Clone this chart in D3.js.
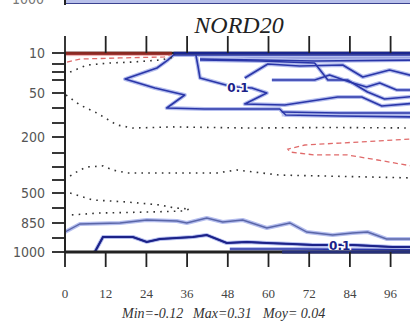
<!DOCTYPE html>
<html><head><meta charset="utf-8">
<script src="https://cdn.jsdelivr.net/npm/d3@7"></script>
<style>body{margin:0;background:#fff}svg{display:block}</style>
</head><body><svg id="c" width="410" height="322"></svg>
<script>
// ---- data ----
const title = "NORD20";
const xTicks = [0, 12, 24, 36, 48, 60, 72, 84, 96];
const yLevels = [10, 20, 30, 40, 50, 100, 150, 200, 250, 300, 400, 500, 700, 850, 925, 1000];
const yLabels = [10, 50, 200, 500, 850, 1000];
const stats = ["Min=-0.12", "Max=0.31", "Moy= 0.04"];

// contour lines as [time, pressure]
const redTop = [[0, 11], [31.5, 11]];
const redDashTop = [[0.6, 18.2], [4.4, 15.5], [16.2, 14.5], [29.4, 13.6], [31.5, 10.9]];
const redLoopRight = [[104, 205], [92.8, 212], [81, 219], [70.7, 225], [65.7, 238], [66.3, 247], [73.6, 257], [83.3, 257], [92.2, 275], [104, 300]];

const zeroF = [[1.5, 30], [6.5, 21.3], [13.3, 19.1], [20, 18.2], [28, 16.4], [32.4, 13.6]];
const zeroG = [[0.3, 56.7], [4.4, 90], [9.4, 116.7], [15.3, 157], [20, 168], [31.8, 164], [54.5, 168], [78, 166], [104, 168]];
const zeroA = [[1.5, 369], [4.4, 323], [6.5, 300], [11.2, 296], [14.1, 323], [18.3, 346], [44.8, 346], [50.7, 323], [55.4, 338], [63.3, 362], [104, 385]];
const zeroLoop = [[1.5, 500], [8.2, 593], [18.3, 620], [28, 660], [32.4, 700], [36.8, 710], [34.7, 730], [25, 740], [10.3, 750], [1.5, 770]];

const blueTop1 = [[32.1, 11.8], [104, 11.8]];
const blueTop2 = [[39.8, 15.5], [57.4, 16.4], [73.6, 17.3], [104, 16.4]];
const blueOuter = [[32.7, 10], [30.3, 16.4], [27.1, 25], [17.7, 38.8], [26.5, 46.2], [35.3, 56.7], [30, 100], [41.2, 103.3], [63.3, 103.3], [65.1, 123.3], [81, 126.7], [104, 130]];
const blueP1 = [[38.6, 11.8], [39.2, 22.5], [39.8, 37.5], [47.4, 43.8], [50.9, 45.4], [55.1, 46.2], [59.5, 50], [53, 86.7], [64.8, 90], [80.4, 63.3], [87.5, 63.3], [93.4, 93.3], [104, 83.3]];
const blueB3 = [[39.8, 16.4], [57.4, 17.3], [73.6, 19.1], [77.5, 40], [83.3, 40], [89.2, 49.2], [94.2, 70], [104, 60]];
const blueB4 = [[53, 37.5], [59.8, 20], [69.2, 22.5], [81.9, 21.3], [87.8, 36.3], [95.7, 27.5], [104, 36.3]];
const blueB5 = [[61, 40], [73.6, 40], [78, 33.8], [83.9, 41.5], [88.9, 45.4], [92.8, 42.3], [97.8, 47.7], [104, 47.7]];
const blueB7 = [[63.9, 113.3], [81, 116.7], [104, 116.7]];

const blueLow05 = [[0, 895], [4.4, 855], [16.2, 850], [24.1, 820], [33, 830], [35.9, 850], [41.8, 800], [46.5, 840], [52.4, 820], [59.5, 875], [66.3, 850], [71.3, 895], [78.9, 910], [84.8, 900], [89.2, 895], [94.8, 930], [104, 930]];
const blueLow1 = [[8.8, 1000], [11.2, 920], [20, 920], [24.1, 946], [28, 930], [37.7, 920], [41.8, 910], [47.7, 952], [53.6, 946], [59.5, 952], [67.1, 957], [73, 962], [84.8, 962], [96.6, 973], [104, 973]];
const blueLow2 = [[48.6, 984], [69.2, 984], [104, 989]];

const contourLabels = [{t: 51, p: 45.5, text: "0.1"}, {t: 81, p: 966, text: "0.1"}];

// ---- layout ----
const svg = d3.select("#c");
const padL = 65, padT = 53, padB = 252;
const x = d3.scaleLinear().domain([0, 104]).range([padL, padL + 104 * 40.7 / 12]);
const y = d3.scaleLinear().domain(yLevels)
  .range([53, 64, 72, 80, 93, 108, 123, 137, 153, 167, 180, 193, 208, 223, 238, 252]);
const line = d3.line().x(d => x(d[0])).y(d => y(d[1]));

// remnant of the panel above (cut off at the top edge)
svg.append("rect").attr("x", padL).attr("y", 0).attr("width", 420 - padL).attr("height", 3).attr("fill", "#b8c0ea");
svg.append("line").attr("x1", padL).attr("x2", 420).attr("y1", 3.5).attr("y2", 3.5).attr("stroke", "#3a4290").attr("stroke-width", 1.2);
svg.append("line").attr("x1", padL).attr("x2", padL).attr("y1", 0).attr("y2", 5).attr("stroke", "#222").attr("stroke-width", 2);
svg.append("text").attr("x", 44).attr("y", 4).attr("text-anchor", "end")
  .attr("font-family", "DejaVu Sans Condensed, DejaVu Sans").attr("font-size", 14).attr("fill", "#777").text("1000");

svg.append("defs").append("clipPath").attr("id", "clip")
  .append("rect").attr("x", padL).attr("y", padT).attr("width", 420 - padL).attr("height", padB - padT);
const plot = svg.append("g").attr("clip-path", "url(#clip)");

// soft shaded bands
plot.append("path").attr("d", d3.area().x(d => x(d[0])).y0(y(10)).y1(d => y(d[1]))([[0, 13], [31.5, 12.5]]))
  .attr("fill", "#f6c8c8").attr("opacity", 0.7);
plot.append("path").attr("d", d3.area().x(d => x(d[0])).y0(y(10)).y1(d => y(d[1]))([[32.1, 13], [104, 18]]))
  .attr("fill", "#7884d6").attr("opacity", 0.75);
plot.append("path").attr("d", d3.area().x(d => x(d[0])).y0(d => y(d[1])).y1(d => y(d[2]))([[63.9, 110, 128], [104, 113, 131]]))
  .attr("fill", "#9aa4e0").attr("opacity", 0.6);
plot.append("path").attr("d", d3.area().x(d => x(d[0])).y0(d => y(d[1])).y1(y(1000))([[60, 975], [104, 980]]))
  .attr("fill", "#9aa4e0").attr("opacity", 0.6);

const blueLines = [blueTop1, blueTop2, blueOuter, blueP1, blueB3, blueB4, blueB5, blueB7, blueLow1, blueLow2];
// halos
blueLines.concat([blueLow05]).forEach(d => plot.append("path").attr("d", line(d))
  .attr("fill", "none").attr("stroke", "#b4bdee").attr("stroke-width", 4).attr("stroke-linejoin", "round"));
blueLines.forEach(d => plot.append("path").attr("d", line(d))
  .attr("fill", "none").attr("stroke", "#2a36a8").attr("stroke-width", 1.6).attr("stroke-linejoin", "round"));
plot.append("path").attr("d", line(blueLow05)).attr("fill", "none")
  .attr("stroke", "#5a66a8").attr("stroke-width", 1.4);
plot.append("path").attr("d", line(blueLow1)).attr("fill", "none")
  .attr("stroke", "#1c2288").attr("stroke-width", 2);

// zero (dotted) lines
[zeroF, zeroG, zeroA, zeroLoop].forEach(d => plot.append("path").attr("d", line(d))
  .attr("fill", "none").attr("stroke", "#333").attr("stroke-width", 1.6)
  .attr("stroke-dasharray", "1.6,5.2"));

// red lines
plot.append("path").attr("d", line(redTop)).attr("fill", "none").attr("stroke", "#d04848").attr("stroke-width", 2.5);
[redDashTop, redLoopRight].forEach(d => plot.append("path").attr("d", line(d))
  .attr("fill", "none").attr("stroke", "#e06a6a").attr("stroke-width", 1.3).attr("stroke-dasharray", "5,3.5"));

// contour labels
contourLabels.forEach(c => plot.append("text").attr("x", x(c.t)).attr("y", y(c.p) + 4.5)
  .attr("text-anchor", "middle").attr("font-family", "DejaVu Sans").attr("font-size", 12).attr("font-weight", "bold")
  .attr("fill", "#1c2288").attr("stroke", "#fff").attr("stroke-width", 3).attr("paint-order", "stroke").text(c.text));

// frame
svg.append("line").attr("x1", padL).attr("x2", 420).attr("y1", y(10)).attr("y2", y(10)).attr("stroke", "#222").attr("stroke-width", 2.5);
svg.append("path").attr("d", line([[0, 10], [31.5, 10]])).attr("stroke", "#8a2a22").attr("stroke-width", 2.5);
svg.append("path").attr("d", line([[32, 10], [104, 10]])).attr("stroke", "#1a2690").attr("stroke-width", 2.5);
svg.append("line").attr("x1", padL).attr("x2", 420).attr("y1", y(1000)).attr("y2", y(1000)).attr("stroke", "#222").attr("stroke-width", 3);
svg.append("path").attr("d", line([[64, 1000], [104, 1000]])).attr("stroke", "#26307a").attr("stroke-width", 3);
svg.append("line").attr("x1", padL).attr("x2", padL).attr("y1", y(10)).attr("y2", y(1000)).attr("stroke", "#222").attr("stroke-width", 2);

// ticks
const tg = svg.append("g").attr("stroke", "#222").attr("stroke-width", 1.8);
xTicks.forEach(t => {
  tg.append("line").attr("x1", x(t)).attr("x2", x(t)).attr("y1", y(10) - 17).attr("y2", y(10));
  tg.append("line").attr("x1", x(t)).attr("x2", x(t)).attr("y1", y(1000)).attr("y2", y(1000) + 15);
});
yLevels.forEach(p => tg.append("line").attr("x1", padL - 13).attr("x2", padL).attr("y1", y(p)).attr("y2", y(p)));

// labels
svg.append("g").selectAll("text").data(yLabels).join("text")
  .attr("x", 45).attr("y", p => y(p) + 5).attr("text-anchor", "end")
  .attr("font-family", "DejaVu Sans Condensed, DejaVu Sans").attr("font-size", 14).attr("fill", "#555").text(p => p);
svg.append("g").selectAll("text").data(xTicks).join("text")
  .attr("x", t => x(t)).attr("y", 298).attr("text-anchor", "middle")
  .attr("font-family", "Liberation Serif").attr("font-size", 13).attr("fill", "#444").text(t => t);
svg.append("text").attr("x", 239).attr("y", 33).attr("text-anchor", "middle")
  .attr("font-family", "Liberation Serif").attr("font-style", "italic").attr("font-size", 24).attr("fill", "#222").text(title);
const statX = [122, 193, 263];
svg.append("g").selectAll("text").data(stats).join("text")
  .attr("x", (d, i) => statX[i]).attr("y", 318)
  .attr("font-family", "Liberation Serif").attr("font-style", "italic").attr("font-size", 14).attr("fill", "#333").text(d => d);
</script>
</body></html>
